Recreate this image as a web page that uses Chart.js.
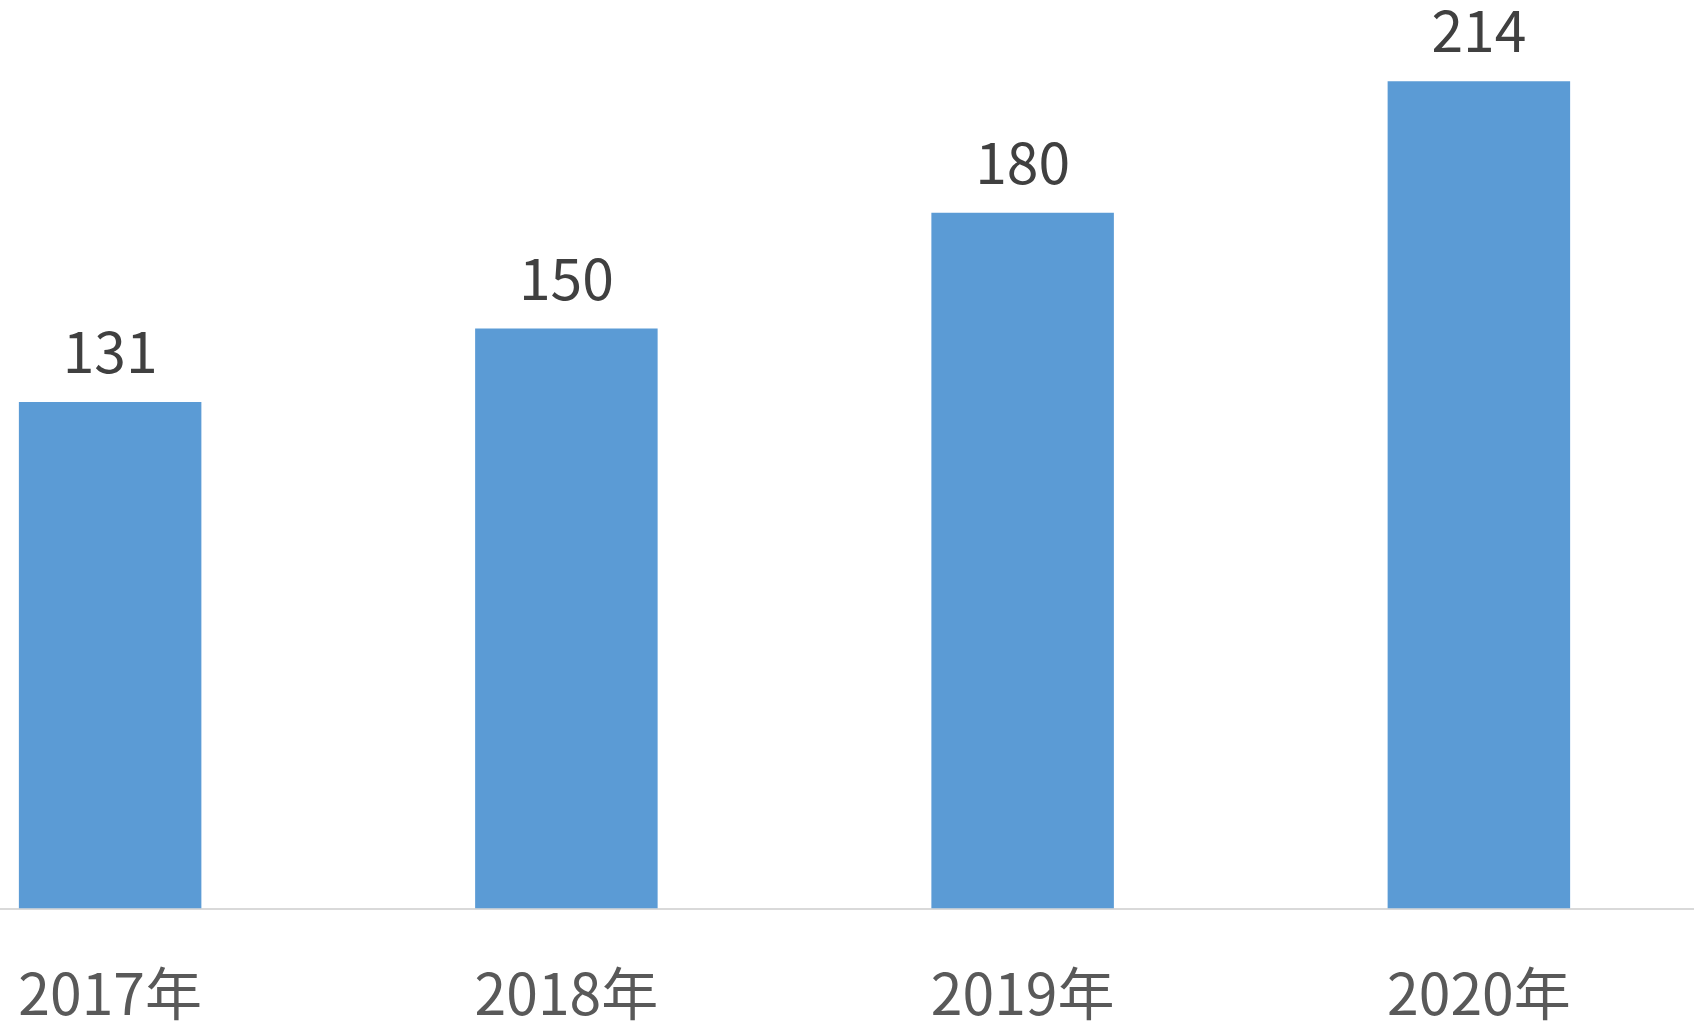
<!DOCTYPE html>
<html>
<head>
<meta charset="utf-8">
<script src="https://cdn.jsdelivr.net/npm/chart.js@4/dist/chart.umd.min.js"></script>
<style>
  html, body { margin: 0; padding: 0; background: #fff; overflow: hidden; }
  body { width: 1694px; height: 1025px; position: relative; }
  /* the plot is cropped on both sides in the reference, so the canvas runs past the window */
  #wrap { position: absolute; left: -118px; top: 0; width: 1825px; height: 1025px; }
</style>
</head>
<body>
<div id="wrap"><canvas id="chart"></canvas></div>
<script>
// ── DATA ──
const years = ['2017年', '2018年', '2019年', '2020年'];
const counts = [131, 150, 180, 214];

const FONT = '"Noto Sans CJK SC", "Noto Sans", sans-serif';

// value labels above each bar
const barLabels = {
  id: 'barLabels',
  afterDatasetsDraw(chart) {
    const { ctx } = chart;
    const meta = chart.getDatasetMeta(0);
    ctx.save();
    ctx.font = `57px ${FONT}`;
    ctx.fillStyle = '#404040';
    ctx.textAlign = 'center';
    ctx.textBaseline = 'alphabetic';
    meta.data.forEach((bar, i) => {
      ctx.fillText(String(counts[i]), bar.x, bar.y - 29);
    });
    ctx.restore();
  }
};

new Chart(document.getElementById('chart').getContext('2d'), {
  type: 'bar',
  data: {
    labels: years,
    datasets: [{
      data: counts,
      backgroundColor: '#5b9bd5',
      borderWidth: 0,
      barPercentage: 0.4,
      categoryPercentage: 1.0
    }]
  },
  options: {
    responsive: true,
    maintainAspectRatio: false,
    animation: false,
    layout: { padding: 0 },
    plugins: {
      legend: { display: false },
      tooltip: { enabled: false }
    },
    scales: {
      x: {
        grid: { display: false, drawTicks: false },
        border: { display: true, color: '#d9d9d9', width: 2 },
        ticks: {
          color: '#595959',
          font: { family: FONT, size: 57 },
          padding: 51
        },
        afterFit: s => { s.height = 116.5; }
      },
      y: {
        display: false,
        min: 0,
        max: 235
      }
    }
  },
  plugins: [barLabels]
});
</script>
</body>
</html>
